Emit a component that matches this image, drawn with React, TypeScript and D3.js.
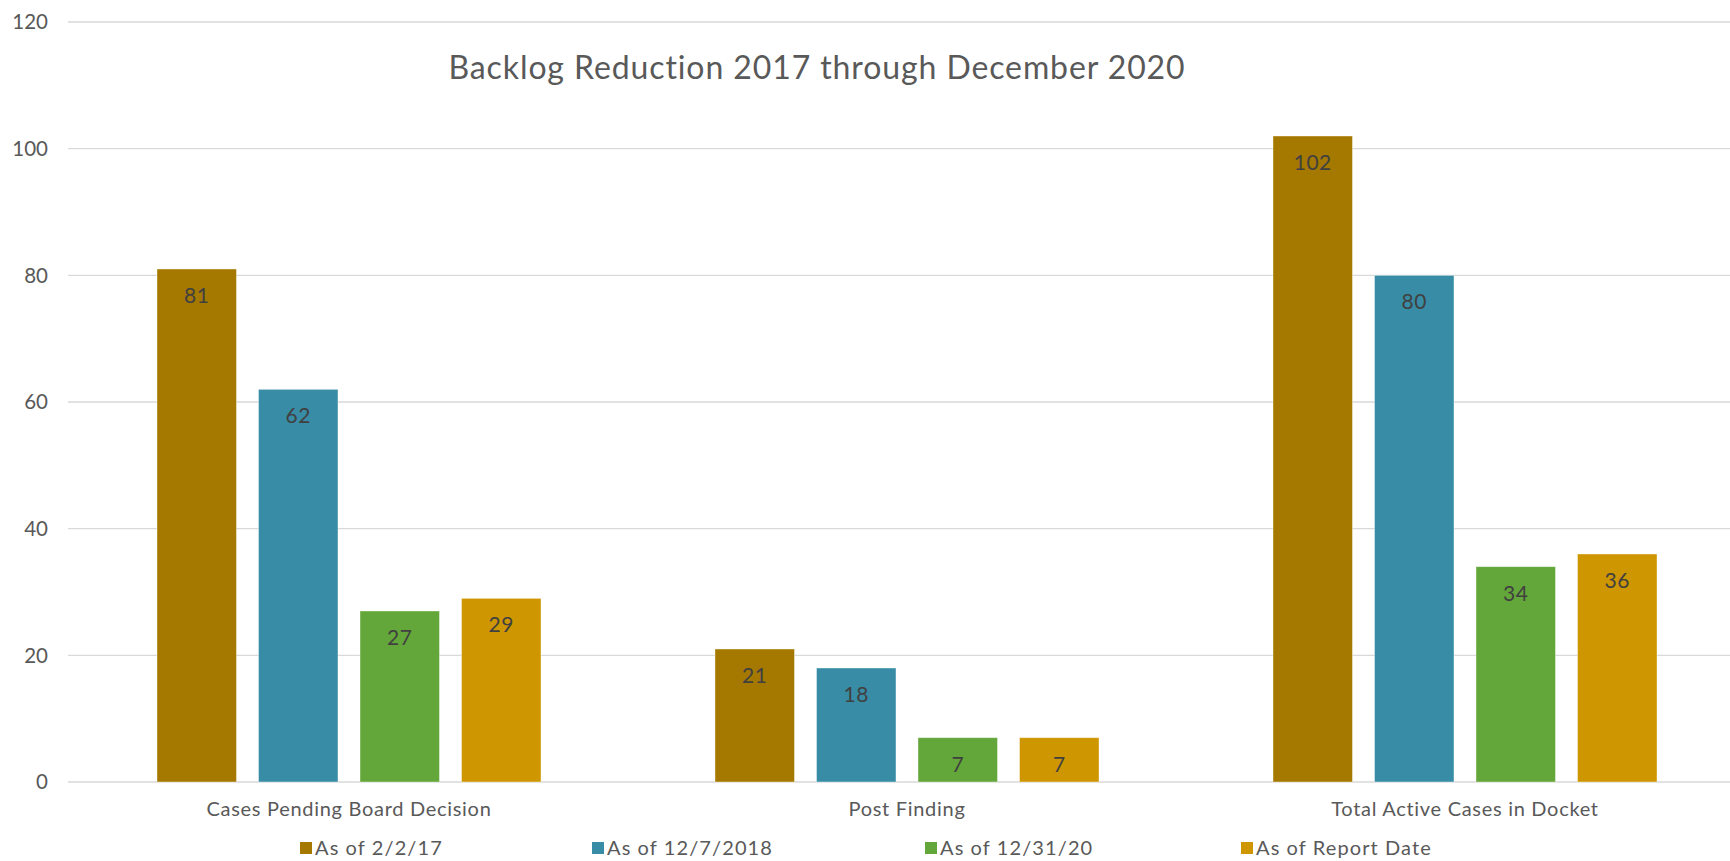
import React, { useEffect, useRef } from "react";
import * as d3 from "d3";

const categories = ["Cases Pending Board Decision", "Post Finding", "Total Active Cases in Docket"];
const seriesNames = ["As of 2/2/17", "As of 12/7/2018", "As of 12/31/20", "As of Report Date"];
const seriesColors = ["#A57800", "#388CA6", "#63A639", "#CE9600"];
const asOf020217 = [81, 21, 102];
const asOf120718 = [62, 18, 80];
const asOf123120 = [27, 7, 34];
const asOfReport = [29, 7, 36];
const yTicks = [0, 20, 40, 60, 80, 100, 120];
const title = "Backlog Reduction 2017 through December 2020";

const W = 1730;
const H = 861;
const FONT = "Lato, 'Open Sans', sans-serif";

export default function App() {
  const ref = useRef<SVGSVGElement | null>(null);

  useEffect(() => {
    const svg = d3.select(ref.current);
    svg.selectAll("*").remove();

    const values = [asOf020217, asOf120718, asOf123120, asOfReport];
    const y = d3.scaleLinear().domain([0, 120]).range([782, 22]);
    const x0 = d3.scaleBand<string>().domain(categories).range([70, 1744]).padding(0);
    const x1 = d3
      .scaleBand<string>()
      .domain(seriesNames)
      .range([87, x0.bandwidth() - 87])
      .paddingInner(0.217)
      .paddingOuter(0);

    // gridlines
    svg
      .append("g")
      .selectAll("line")
      .data(yTicks)
      .join("line")
      .attr("x1", 68)
      .attr("x2", W)
      .attr("y1", (d) => y(d))
      .attr("y2", (d) => y(d))
      .attr("stroke", "#D9D9D9")
      .attr("stroke-width", 1.3);

    // y labels
    svg
      .append("g")
      .selectAll("text")
      .data(yTicks)
      .join("text")
      .attr("x", 48)
      .attr("y", (d) => y(d))
      .attr("dy", "0.35em")
      .attr("text-anchor", "end")
      .attr("font-family", FONT)
      .attr("font-size", 20.5)
      .attr("fill", "#595959")
      .text((d) => String(d));

    // bars
    const groups = svg
      .append("g")
      .selectAll("g")
      .data(categories)
      .join("g")
      .attr("transform", (c) => `translate(${x0(c)},0)`);

    groups.each(function (c, ci) {
      const g = d3.select(this);
      seriesNames.forEach((s, si) => {
        const v = values[si][ci];
        g.append("rect")
          .attr("x", x1(s)!)
          .attr("y", y(v))
          .attr("width", x1.bandwidth())
          .attr("height", y(0) - y(v))
          .attr("fill", seriesColors[si])
          .attr("stroke", "#ffffff")
          .attr("stroke-opacity", 0.5)
          .attr("stroke-width", 0.8);
        g.append("text")
          .attr("x", x1(s)! + x1.bandwidth() / 2)
          .attr("y", y(v) + 34)
          .attr("text-anchor", "middle")
          .attr("font-family", FONT)
          .attr("font-size", 21)
          .attr("letter-spacing", 0.5)
          .attr("fill", "#404040")
          .text(String(v));
      });
    });

    // category labels
    svg
      .append("g")
      .selectAll("text")
      .data(categories)
      .join("text")
      .attr("x", (c) => x0(c)! + x0.bandwidth() / 2)
      .attr("y", 816)
      .attr("text-anchor", "middle")
      .attr("font-family", FONT)
      .attr("font-size", 20)
      .attr("letter-spacing", 0.7)
      .attr("fill", "#595959")
      .text((c) => c);

    // title
    svg
      .append("text")
      .attr("x", 817)
      .attr("y", 79)
      .attr("text-anchor", "middle")
      .attr("font-family", FONT)
      .attr("font-size", 32)
      .attr("letter-spacing", 0.9)
      .attr("fill", "#595959")
      .text(title);

    // legend
    const legendX = [300, 592, 925, 1241];
    const lg = svg
      .append("g")
      .selectAll("g")
      .data(seriesNames)
      .join("g")
      .attr("transform", (_, i) => `translate(${legendX[i]},848)`);
    lg.append("rect")
      .attr("x", 0)
      .attr("y", -6)
      .attr("width", 12)
      .attr("height", 12)
      .attr("fill", (_, i) => seriesColors[i]);
    lg.append("text")
      .attr("x", 15)
      .attr("y", 0)
      .attr("dy", "0.35em")
      .attr("font-family", FONT)
      .attr("font-size", 20)
      .attr("letter-spacing", 1.1)
      .attr("fill", "#595959")
      .text((d) => d);
  }, []);

  return (
    <svg
      ref={ref}
      width={W}
      height={H}
      style={{ position: "absolute", left: 0, top: 0, background: "#fff" }}
    />
  );
}
